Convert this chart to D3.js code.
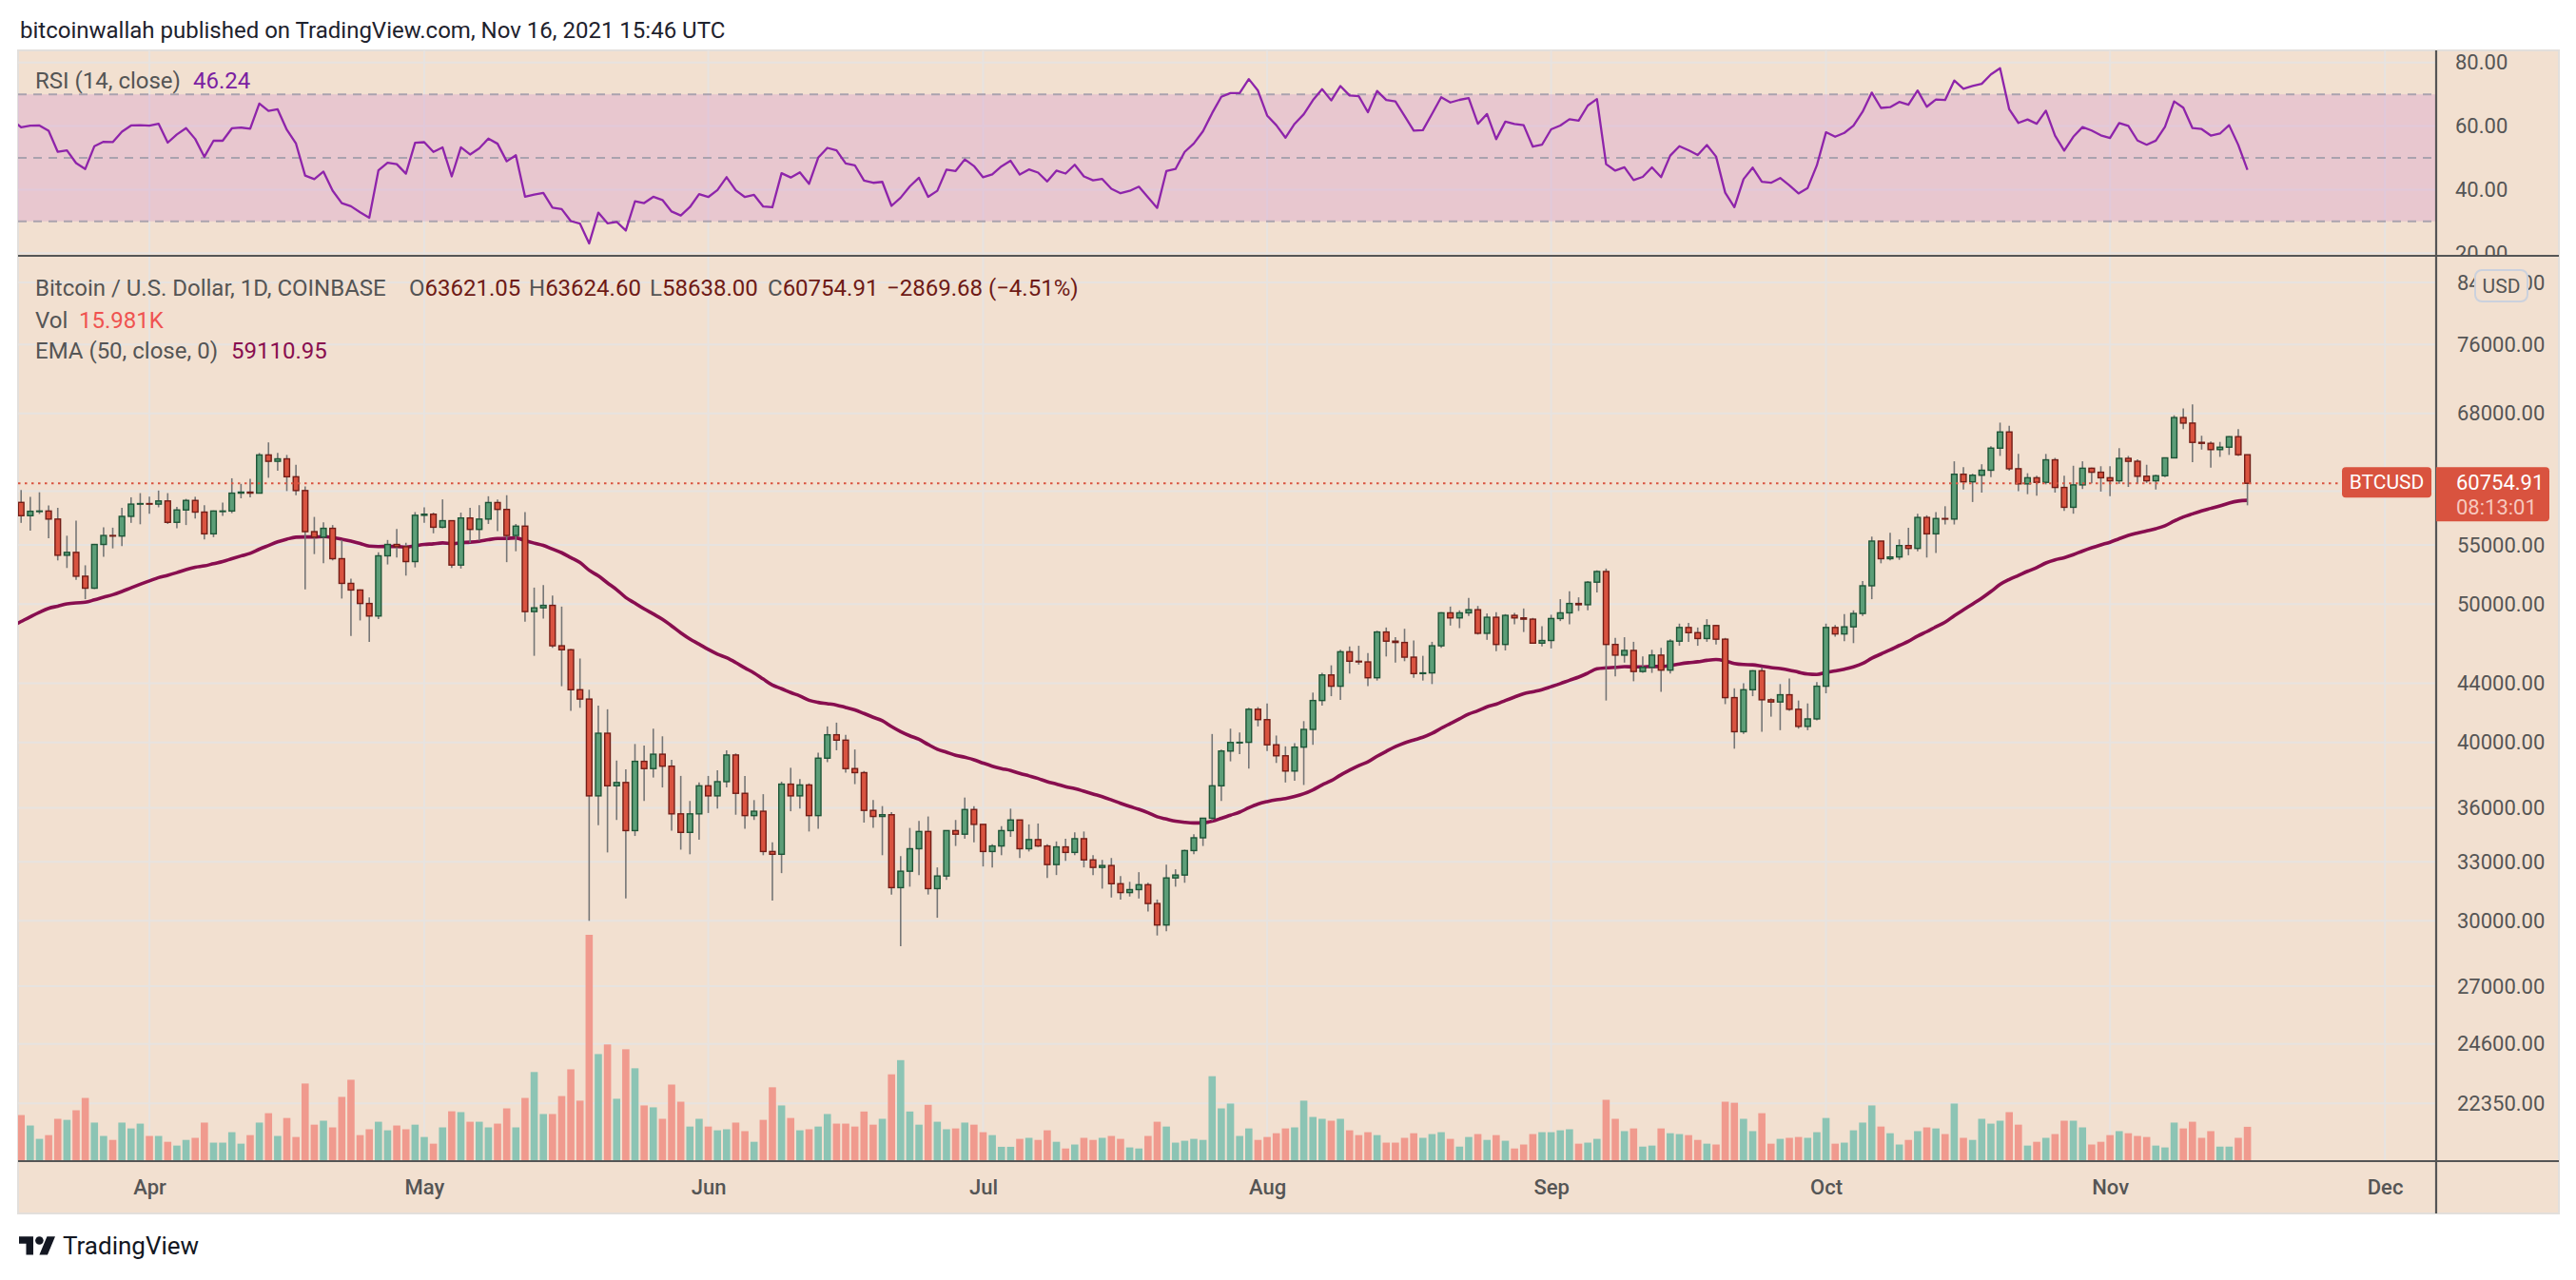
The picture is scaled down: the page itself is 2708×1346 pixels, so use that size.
<!DOCTYPE html>
<html><head><meta charset="utf-8">
<script src="https://cdn.jsdelivr.net/npm/d3@7"></script>
<style>
html,body{margin:0;padding:0;background:#ffffff;}
svg{display:block;font-family:Roboto,"Liberation Sans",sans-serif;}
</style></head><body>
<svg id="chart" width="2708" height="1346"></svg>
<script>
// ---------------- DATA (BTC/USD daily, Coinbase, 2021-03-18 .. 2021-11-16) ----------------
const firstDay = "2021-03-18";
const opens = [58913,57665,58075,58100,57350,54100,54350,52300,51300,55050,55850,55800,57600,58750,
58800,58750,59050,57050,58200,59100,58000,56000,58100,58100,59800,59900,59800,63600,62950,63200,61400,60050,56200,55700,56500,53800,51700,51150,50050,49050,54050,55050,54850,53550,
57700,57800,56600,57200,53250,57450,56400,57350,58900,58250,55850,56700,49400,49700,49900,46750,46450,43550,42900,36700,40600,37300,37500,34700,38800,38350,39250,38500,35650,34600,35650,
37300,36700,37550,39200,36850,35550,35800,33550,33400,37400,36700,37350,35550,39000,40500,40150,38350,38100,35850,35500,35600,31650,32500,33700,34650,31600,32250,34700,34500,35900,
35050,33550,33850,34700,35300,33700,34200,33850,32850,33800,33500,34250,33100,32700,32800,31850,31400,31550,31800,30850,29800,32150,32300,33600,34300,35400,37300,39450,40000,40010,42200,
41500,39850,39150,38200,39700,40850,42800,44600,43800,46300,45600,45550,44400,47800,47100,47000,45900,44700,44750,46750,49300,48900,49300,49550,47700,48950,46850,49100,48900,48800,46950,
47150,48850,49300,50050,49950,51800,52700,46850,46050,46400,44850,45150,46050,44950,47100,48150,47750,47300,48300,47250,43000,40700,43550,44900,42850,42700,43200,42200,41050,41550,
43800,48150,47650,48200,49250,51500,55350,53800,53950,54950,54700,57500,56000,57400,57350,61650,60900,61550,62050,64300,66000,62200,60700,61300,60850,63100,60350,58450,60600,62250,61850,
61300,61000,63250,62950,61450,61000,61500,63300,67550,66950,64900,64800,64150,64400,65500,63621.05];
const highs = [60100,59450,59880,58620,58400,55830,57200,53230,55100,56600,56560,58400,59400,59800,
59460,60050,59800,58500,59250,59450,58650,58150,58900,61250,60700,61200,63800,64900,63800,63600,62600,60450,57550,57050,56800,55450,52100,51200,50550,54350,55450,56450,55200,58000,
58450,57950,59200,57200,57950,58400,58650,59500,59200,59600,56900,58000,51350,51550,50700,49800,46500,45800,43550,42450,42200,38850,38300,39900,39800,40900,40400,38900,37900,36400,37500,
37900,38250,39500,39300,37900,36450,36800,34050,37550,38400,37700,37450,39350,41050,41300,40500,39550,38200,36450,36100,35750,33300,34850,35250,35500,32700,34700,35300,36600,36100,
35050,33950,34950,35950,35300,35050,35100,33950,34100,34250,34600,34650,33350,33100,33200,32250,31950,32450,31900,31050,32850,32600,33650,34500,35400,40550,39550,40900,40650,42300,42350,
42600,40450,39750,39950,41400,43350,44750,45300,46450,46700,46750,46200,47900,48150,47400,48050,47150,46000,47050,49350,49800,49500,50500,49850,49250,49350,49200,49300,49650,48900,48250,
49150,50400,51050,50550,51900,52800,52950,47350,47400,47050,45950,46450,46600,47250,48450,48500,48150,48800,48350,47350,43650,44000,44950,45150,42950,43950,44350,42800,42600,44100,
48450,48350,49200,49500,51900,55750,55350,56100,55500,56550,57850,57700,58000,58550,62950,62350,61700,62650,64500,67000,66650,63700,61750,61500,63700,63300,61500,62500,62950,62300,62450,
62450,64300,63500,63150,62600,61600,63300,67800,68550,69000,65600,65000,64950,65550,66300,63624.60];
const lows = [57000,56280,57820,55600,53650,53000,52000,50400,51230,53970,54700,54900,57000,56870,
57850,58450,56900,56500,56800,57400,55500,55700,57650,57900,59300,59400,59800,61300,62000,60000,59600,51200,54200,53400,53650,50450,47500,48700,47050,48800,53300,53900,52350,53050,
57000,56050,56500,53000,52950,55200,55400,56900,56250,53500,54450,48600,46000,48850,46600,43800,42100,42300,30000,35000,33500,35300,31100,34400,36400,37800,37200,34700,33650,33400,34200,
35700,35950,37200,35600,34800,35300,33350,31000,32400,35800,35950,34650,34800,38750,39500,38100,37400,35150,34850,33350,31300,28800,31700,32300,31300,30150,32050,33850,34250,34050,
32750,32700,33350,34350,33200,33550,33800,32150,32300,33050,33350,32700,32300,31600,31150,31050,31200,31100,30450,29300,29500,31700,31900,33400,33850,35250,36400,38800,39250,38350,41050,
39450,38700,37500,37600,37350,39850,42450,43100,42850,44700,45350,43800,44200,45950,45500,45600,44400,44200,43950,46600,48300,48100,49050,47600,47200,46350,46400,48400,47800,46900,46700,
46550,48650,48400,49450,49500,50950,42800,44500,45500,44150,44750,44750,43400,44700,46750,47050,46750,47050,46850,42550,39600,40550,43100,40700,41700,40800,42100,40900,40800,41450,
43300,47450,47100,46950,49050,50400,53400,53650,53700,54100,54450,53900,54300,56850,56850,60150,58950,59850,61350,63500,62000,60000,59700,59550,60650,59850,58100,57850,60200,60750,59950,
59500,60700,60400,60700,60800,60150,61350,63300,66300,62850,64150,62300,63400,63600,63500,58638];
const closes = [57665,58075,58100,57350,54100,54350,52300,51300,55050,55850,55800,57600,58750,58800,
58750,59050,57050,58200,59100,58000,56000,58100,58100,59800,59900,59800,63600,62950,63200,61400,60050,56200,55700,56500,53800,51700,51150,50050,49050,54050,55050,54850,53550,57700,
57800,56600,57200,53250,57450,56400,57350,58900,58250,55850,56700,49400,49700,49900,46750,46450,43550,42900,36700,40600,37300,37500,34700,38800,38350,39250,38500,35650,34600,35650,37300,
36700,37550,39200,36850,35550,35800,33550,33400,37400,36700,37350,35550,39000,40500,40150,38350,38100,35850,35500,35600,31650,32500,33700,34650,31600,32250,34700,34500,35900,35050,
33550,33850,34700,35300,33700,34200,33850,32850,33800,33500,34250,33100,32700,32800,31850,31400,31550,31800,30850,29800,32150,32300,33600,34300,35400,37300,39450,40000,40010,42200,41500,
39850,39150,38200,39700,40850,42800,44600,43800,46300,45600,45550,44400,47800,47100,47000,45900,44700,44750,46750,49300,48900,49300,49550,47700,48950,46850,49100,48900,48800,46950,47150,
48850,49300,50050,49950,51800,52700,46850,46050,46400,44850,45150,46050,44950,47100,48150,47750,47300,48300,47250,43000,40700,43550,44900,42850,42700,43200,42200,41050,41550,43800,
48150,47650,48200,49250,51500,55350,53800,53950,54950,54700,57500,56000,57400,57350,61650,60900,61550,62050,64300,66000,62200,60700,61300,60850,63100,60350,58450,60600,62250,61850,61300,
61000,63250,62950,61450,61000,61500,63300,67550,66950,64900,64800,64150,64400,65500,63624.59,60754.91];
// volume, thousands of BTC
const volumes = [21.6,16.6,10.2,12.0,19.8,19.3,23.9,29.8,18.0,11.6,9.7,18.0,15.2,17.5,
11.6,11.6,8.8,7.0,9.7,10.7,18.0,8.4,8.4,13.4,7.9,12.0,18.0,22.5,11.6,20.2,11.1,36.7,17.0,18.9,15.7,30.3,38.5,12.0,14.8,18.4,14.3,16.6,14.8,17.0,
11.1,7.9,15.7,23.4,23.0,18.4,18.4,15.7,17.5,24.8,15.7,29.8,42.2,22.1,22.1,30.7,43.5,28.5,107.9,50.8,55.4,29.4,53.1,44.0,26.2,25.3,19.8,36.2,28.0,16.1,19.8,
16.1,14.3,14.8,18.0,13.9,8.8,19.3,34.9,26.2,20.2,14.3,14.8,16.1,22.1,17.5,17.5,16.1,23.3,17.0,19.8,41.1,47.9,23.3,17.0,26.5,18.4,14.8,15.2,18.0,17.0,
13.4,12.0,6.4,6.4,10.2,10.7,9.7,14.3,8.8,5.6,7.5,10.7,9.7,10.7,11.6,10.2,6.1,5.6,11.6,18.4,16.1,8.4,9.3,10.2,9.7,40.2,24.8,27.1,11.6,15.2,9.7,
11.1,12.9,15.2,15.7,28.5,20.7,19.8,18.9,19.8,14.3,12.0,13.4,12.0,8.4,8.4,10.7,12.9,10.7,12.5,13.4,10.2,6.5,11.1,12.5,9.7,12.0,9.3,5.6,7.5,12.5,13.4,
13.4,14.3,14.8,7.9,8.4,10.2,28.9,19.8,13.9,15.2,6.5,7.0,15.2,12.9,12.5,12.0,9.7,7.9,7.5,28.0,27.5,19.8,13.9,22.5,7.9,10.2,10.7,11.1,10.7,13.4,
20.2,7.9,8.4,14.3,18.0,26.2,16.1,12.9,7.5,9.7,13.9,15.7,15.2,12.5,27.1,10.7,9.7,19.8,17.5,18.9,23.0,17.0,7.0,8.8,10.7,12.5,18.9,18.9,15.7,7.5,8.8,
12.0,13.9,12.9,11.6,11.1,7.0,6.1,18.0,15.2,18.4,10.7,13.9,6.5,6.5,10.7,15.981];
// indicator state on 2021-03-17, used to start EMA(50) and RSI(14)
const emaSeed = 48250;
const rsiSeedGain = 1500, rsiSeedLoss = 920;
// tick labels
const priceTicks = [84000,76000,68000,60000,55000,50000,44000,40000,36000,33000,30000,27000,24600,22350];
const rsiTicks = [80,60,40,20];
const rsiBands = [70,50,30];
const monthLabels = ["Apr","May","Jun","Jul","Aug","Sep","Oct","Nov","Dec"];
// texts
const headerText = "bitcoinwallah published on TradingView.com, Nov 16, 2021 15:46 UTC";
const symbolText = "Bitcoin / U.S. Dollar, 1D, COINBASE";
const emaLegendLabel = "EMA (50, close, 0)", emaLegendValue = "59110.95";
const rsiLegendLabel = "RSI (14, close)", rsiLegendValue = "46.24";
const countdownText = "08:13:01";
const tickerText = "BTCUSD", currencyText = "USD";

// ---------------- DERIVED ----------------
const DAY = 86400000;
const t0 = Date.parse(firstDay + "T00:00:00Z");
const dates = closes.map((_, i) => new Date(t0 + i * DAY));
const bars = dates.map((d, i) => ({date: d, o: opens[i], h: highs[i], l: lows[i], c: closes[i], v: volumes[i]}));
const prevDay = new Date(t0 - DAY);
// EMA(50, close)
const ema = [{date: prevDay, v: emaSeed}];
{ let e = emaSeed; const k = 2 / 51; closes.forEach((c, i) => { e = e + (c - e) * k; ema.push({date: dates[i], v: e}); }); }
// RSI(14, close) with Wilder smoothing
const rsi = [{date: prevDay, v: 100 - 100 / (1 + rsiSeedGain / rsiSeedLoss)}];
{ let ag = rsiSeedGain, al = rsiSeedLoss, prev = opens[0];
  closes.forEach((c, i) => { const ch = c - prev; ag = (ag * 13 + Math.max(ch, 0)) / 14; al = (al * 13 + Math.max(-ch, 0)) / 14; rsi.push({date: dates[i], v: 100 - 100 / (1 + ag / al)}); prev = c; }); }

// ---------------- LAYOUT ----------------
const FX0 = 19, FX1 = 2690, FY0 = 53, FY1 = 1276;
const AX = 2561;            // price axis line
const RSI_Y1 = 269;         // rsi / main separator
const MAIN_Y1 = 1221;       // time axis line
const BG = "#f2e0d0", GRID = "#e7e3e0", AXIS_LINE = "#555555", TXT = "#555555";
const UP_FILL = "#5c9e78", UP_LINE = "#1e5537", DN_FILL = "#d95340", DN_LINE = "#731d16";
const VOL_UP = "#8cc4b4", VOL_DN = "#f09a8e";
const LAST_RED = "#d9533f";

const x = d3.scaleUtc()
  .domain([new Date(Date.UTC(2021, 2, 17, 16, 0)), new Date(Date.UTC(2021, 11, 6, 14, 24))])
  .range([FX0, AX]);
const yMain = d3.scaleLog().domain([20362, 87551]).range([MAIN_Y1, RSI_Y1 + 1]);
const yVol = d3.scaleLinear().domain([0, d3.max(volumes)]).range([MAIN_Y1 - 1, 983]);
const yRsi = d3.scaleLinear().domain([50 - (RSI_Y1 - 166) / 3.34, 50 + (166 - FY0) / 3.34]).range([RSI_Y1, FY0]);

const svg = d3.select("#chart");
const defs = svg.append("defs");
defs.append("clipPath").attr("id", "clipRsi").append("rect").attr("x", FX0).attr("y", FY0).attr("width", AX - FX0).attr("height", RSI_Y1 - FY0);
defs.append("clipPath").attr("id", "clipMain").append("rect").attr("x", FX0).attr("y", RSI_Y1).attr("width", AX - FX0).attr("height", MAIN_Y1 - RSI_Y1);
defs.append("clipPath").attr("id", "clipRsiAxis").append("rect").attr("x", AX).attr("y", FY0).attr("width", FX1 - AX).attr("height", RSI_Y1 - FY0);

// header
svg.append("text").attr("x", 21).attr("y", 32).attr("dominant-baseline", "central")
  .attr("font-size", 24).attr("fill", "#1e222d").text(headerText);

// frame
svg.append("rect").attr("x", FX0).attr("y", FY0).attr("width", FX1 - FX0).attr("height", FY1 - FY0)
  .attr("fill", BG).attr("stroke", "#e2dfdc").attr("stroke-width", 2);

// grid
const months = x.ticks(d3.utcMonth.every(1));
const grid = svg.append("g");
grid.selectAll("line.v").data(months).join("line")
  .attr("x1", d => x(d)).attr("x2", d => x(d)).attr("y1", FY0).attr("y2", MAIN_Y1)
  .attr("stroke", GRID).attr("stroke-width", 2);
grid.selectAll("line.hp").data(priceTicks).join("line")
  .attr("x1", FX0).attr("x2", AX).attr("y1", d => yMain(d)).attr("y2", d => yMain(d))
  .attr("stroke", GRID).attr("stroke-width", 2);
grid.selectAll("line.hr").data(rsiTicks).join("line")
  .attr("x1", FX0).attr("x2", AX).attr("y1", d => yRsi(d)).attr("y2", d => yRsi(d))
  .attr("stroke", GRID).attr("stroke-width", 2);

// RSI pane
const gR = svg.append("g").attr("clip-path", "url(#clipRsi)");
gR.append("rect").attr("x", FX0).attr("width", AX - FX0)
  .attr("y", yRsi(rsiBands[0])).attr("height", yRsi(rsiBands[2]) - yRsi(rsiBands[0]))
  .attr("fill", "rgba(214,150,205,0.33)");
gR.selectAll("line.band").data(rsiBands).join("line")
  .attr("x1", FX0).attr("x2", AX).attr("y1", d => yRsi(d)).attr("y2", d => yRsi(d))
  .attr("stroke", "#aaa2ae").attr("stroke-width", 2).attr("stroke-dasharray", "9,7");
gR.append("path").datum(rsi)
  .attr("d", d3.line().x(d => x(d.date)).y(d => yRsi(d.v)))
  .attr("fill", "none").attr("stroke", "#8e24aa").attr("stroke-width", 2.3).attr("stroke-linejoin", "round");

// main pane
const gM = svg.append("g").attr("clip-path", "url(#clipMain)");
gM.selectAll("rect.vol").data(bars).join("rect")
  .attr("x", d => x(d.date) - 3.8).attr("width", 7.6)
  .attr("y", d => yVol(d.v)).attr("height", d => yVol(0) - yVol(d.v))
  .attr("fill", d => d.c >= d.o ? VOL_UP : VOL_DN);
gM.append("path").datum(ema)
  .attr("d", d3.line().x(d => x(d.date)).y(d => yMain(d.v)).curve(d3.curveMonotoneX))
  .attr("fill", "none").attr("stroke", "#880e4f").attr("stroke-width", 3.6).attr("stroke-linejoin", "round");
const cg = gM.selectAll("g.candle").data(bars).join("g");
cg.append("line")
  .attr("x1", d => x(d.date)).attr("x2", d => x(d.date))
  .attr("y1", d => yMain(d.h)).attr("y2", d => yMain(d.l))
  .attr("stroke", "#767676").attr("stroke-width", 1.6);
cg.append("rect")
  .attr("x", d => x(d.date) - 2.9).attr("width", 5.8)
  .attr("y", d => yMain(Math.max(d.o, d.c)))
  .attr("height", d => Math.max(0.6, Math.abs(yMain(d.o) - yMain(d.c))))
  .attr("fill", d => d.c >= d.o ? UP_FILL : DN_FILL)
  .attr("stroke", d => d.c >= d.o ? UP_LINE : DN_LINE).attr("stroke-width", 1.4);

// last price dotted line
const last = bars[bars.length - 1], prevBar = bars[bars.length - 2];
const yLast = yMain(last.c);
svg.append("line").attr("x1", FX0).attr("x2", 2462).attr("y1", yLast).attr("y2", yLast)
  .attr("stroke", LAST_RED).attr("stroke-width", 2).attr("stroke-dasharray", "2.5,4.5");

// axes
const styleAxis = g => { g.select(".domain").remove(); g.selectAll("text").attr("fill", TXT).attr("font-family", "Roboto, sans-serif"); };
svg.append("g").attr("transform", `translate(0,${MAIN_Y1})`)
  .call(d3.axisBottom(x).tickValues(months).tickFormat((d, i) => monthLabels[i]).tickSize(0).tickPadding(19))
  .call(styleAxis).call(g => g.selectAll("text").attr("font-size", 22).attr("font-weight", 500));
// price labels hidden behind the last-price tag are not drawn (as on the reference)
const tagTop = yLast - 17, tagBottom = yLast + 40;
const visiblePriceTicks = priceTicks.filter(p => yMain(p) < tagTop - 8 || yMain(p) > tagBottom + 8);
svg.append("g").attr("transform", `translate(${AX},0)`)
  .call(d3.axisRight(yMain).tickValues(visiblePriceTicks).tickFormat(d3.format(".2f")).tickSize(0).tickPadding(22))
  .call(styleAxis).call(g => g.selectAll("text").attr("font-size", 22));
svg.append("g").attr("clip-path", "url(#clipRsiAxis)").append("g").attr("transform", `translate(${AX},0)`)
  .call(d3.axisRight(yRsi).tickValues(rsiTicks).tickFormat(d3.format(".2f")).tickSize(0).tickPadding(20))
  .call(styleAxis).call(g => g.selectAll("text").attr("font-size", 22));

// USD badge (sits over the top price label, as on the reference)
svg.append("rect").attr("x", 2602).attr("y", 284).attr("width", 55).attr("height", 33).attr("rx", 7)
  .attr("fill", BG).attr("stroke", "#cbd1dd").attr("stroke-width", 2);
svg.append("text").attr("x", 2629.5).attr("y", 301).attr("text-anchor", "middle").attr("dominant-baseline", "central")
  .attr("font-size", 21).attr("fill", TXT).text(currencyText);

// separators
svg.append("line").attr("x1", FX0).attr("x2", FX1).attr("y1", RSI_Y1).attr("y2", RSI_Y1).attr("stroke", AXIS_LINE).attr("stroke-width", 2.2);
svg.append("line").attr("x1", FX0).attr("x2", FX1).attr("y1", MAIN_Y1).attr("y2", MAIN_Y1).attr("stroke", AXIS_LINE).attr("stroke-width", 2.2);
svg.append("line").attr("x1", AX).attr("x2", AX).attr("y1", FY0).attr("y2", FY1).attr("stroke", AXIS_LINE).attr("stroke-width", 2.2);

// ticker tag + price tag
svg.append("rect").attr("x", 2462).attr("y", yLast - 17).attr("width", 94).attr("height", 32).attr("rx", 4).attr("fill", LAST_RED);
svg.append("text").attr("x", 2509).attr("y", yLast - 1).attr("text-anchor", "middle").attr("dominant-baseline", "central")
  .attr("font-size", 21).attr("fill", "#ffffff").text(tickerText);
svg.append("path")
  .attr("d", `M${AX},${tagTop} H${2676} a4,4 0 0 1 4,4 V${tagBottom - 4} a4,4 0 0 1 -4,4 H${AX} Z`)
  .attr("fill", LAST_RED);
svg.append("text").attr("x", 2582).attr("y", yLast - 1).attr("dominant-baseline", "central")
  .attr("font-size", 22).attr("fill", "#ffffff").text(d3.format(".2f")(last.c));
svg.append("text").attr("x", 2582).attr("y", yLast + 25).attr("dominant-baseline", "central")
  .attr("font-size", 22).attr("fill", "#f7c7bd").text(countdownText);

// legends
const legend = (xp, yp, parts) => {
  const t = svg.append("text").attr("x", xp).attr("y", yp).attr("dominant-baseline", "central").attr("font-size", 24);
  parts.forEach(([s, c]) => t.append("tspan").attr("fill", c).text(s));
};
const VALRED = "#6e1a16";
const f2 = d3.format(".2f");
const chg = last.c - prevBar.c;
const minus = s => s.replace("-", "\u2212");
legend(37, 85, [[rsiLegendLabel, TXT]]);
legend(203, 85, [[rsiLegendValue, "#7b1fa2"]]);
legend(37, 303, [[symbolText, TXT]]);
legend(430, 303, [["O", TXT], [f2(last.o), VALRED]]);
legend(556, 303, [["H", TXT], [f2(last.h), VALRED]]);
legend(683, 303, [["L", TXT], [f2(last.l), VALRED]]);
legend(807, 303, [["C", TXT], [f2(last.c), VALRED]]);
legend(932, 303, [[minus(f2(chg)) + " (" + minus(f2(chg / prevBar.c * 100)) + "%)", VALRED]]);
legend(37, 337, [["Vol", TXT]]);
legend(83, 337, [[d3.format(".3f")(last.v) + "K", "#ef5350"]]);
legend(37, 369, [[emaLegendLabel, TXT]]);
legend(243, 369, [[emaLegendValue, "#880e4f"]]);

// TradingView logo
const logo = svg.append("g").attr("transform", "translate(20,1296) scale(1.07)").attr("fill", "#131722");
logo.append("path").attr("d", "M14 22H7V11H0V4h14v18zM28 22h-8l7.5-18h8L28 22z");
logo.append("circle").attr("cx", 20).attr("cy", 8).attr("r", 4);
svg.append("text").attr("x", 66).attr("y", 1319).attr("font-size", 26).attr("fill", "#131722").text("TradingView");
</script>
</body></html>
